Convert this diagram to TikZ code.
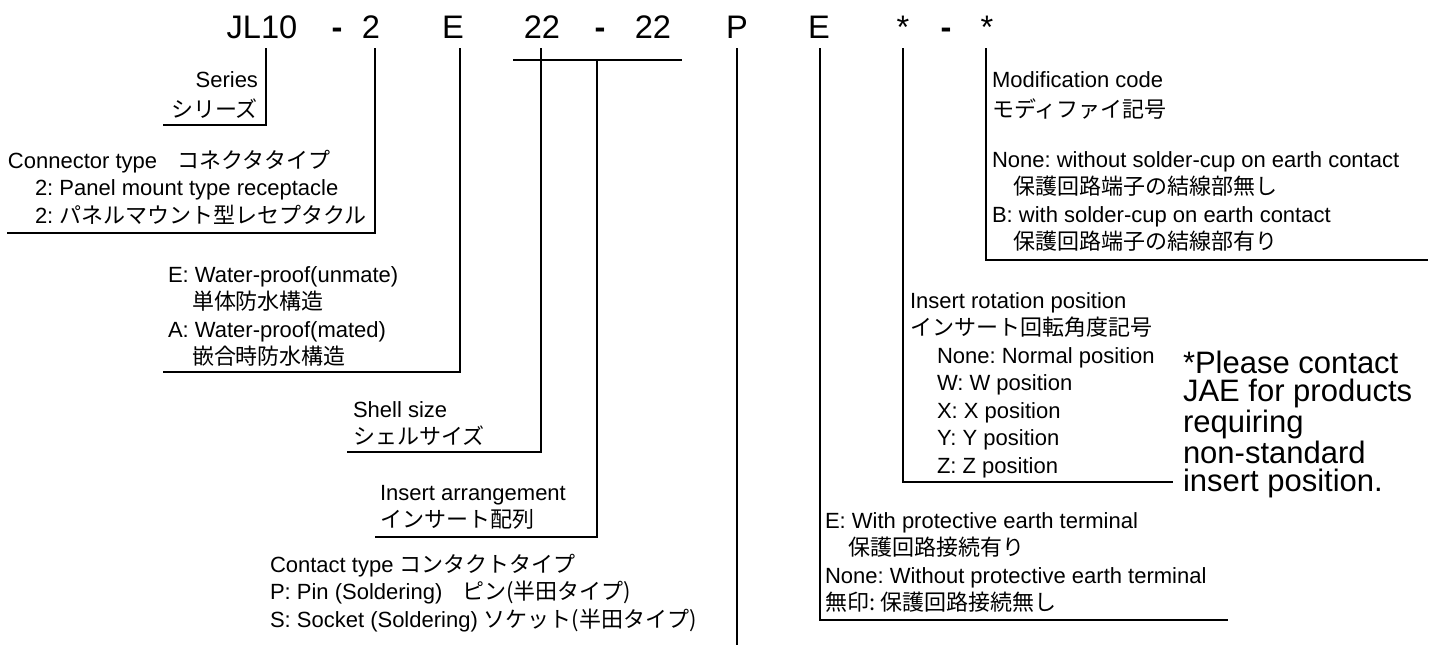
\documentclass[tikz,border=0pt]{standalone}
\usepackage{fontspec}
\setmainfont{Liberation Sans}
\newfontfamily\jp{Noto Sans CJK JP}
\frenchspacing
\tikzset{
  lbl/.style={inner sep=0pt, outer sep=0pt, align=left, anchor=north west,
    font=\fontsize{11}{13.75}\selectfont},
  lblr/.style={lbl, align=right, anchor=north east},
  code/.style={inner sep=0pt, anchor=base, font=\fontsize{16.3}{18}\selectfont},
  note/.style={lbl, font=\fontsize{15.5}{14}\selectfont},
  lead/.style={line width=1.1pt},
  bar/.style={line width=1.4pt}
}
\newcommand{\tp}{\rule{0pt}{10pt}}
\begin{document}
\begin{tikzpicture}[x=0.5pt,y=-0.5pt]
\useasboundingbox (0,0) rectangle (1437,645);
% header code
\node[code] (cJL) at (262,38) {JL10};
\node[code] (cD1) at (337,38) {\textbf{-}};
\node[code] (c2) at (371,38) {2};
\node[code] (cE) at (453,38) {E};
\node[code] (c22a) at (542,38) {22};
\node[code] (cD2) at (600,38) {\textbf{-}};
\node[code] (c22b) at (653,38) {22};
\node[code] (cP) at (737,38) {P};
\node[code] (cE2) at (819,38) {E};
\node[code] (cS1) at (903,38) {*};
\node[code] (cD3) at (946,38) {\textbf{-}};
\node[code] (cS2) at (987,38) {*};

% coordinates for leaders
\coordinate (t1) at (266,48);   \coordinate (k1) at (266,125);  \coordinate (e1) at (163,125);
\coordinate (t2) at (375,48);   \coordinate (k2) at (375,233);  \coordinate (e2) at (7,233);
\coordinate (t3) at (460,48);   \coordinate (k3) at (460,372);  \coordinate (e3) at (163,372);
\coordinate (bL) at (513,60);   \coordinate (bR) at (682,60);
\coordinate (t4) at (541,48);   \coordinate (k4) at (541,452);  \coordinate (e4) at (347,452);
\coordinate (t5) at (597,60);   \coordinate (k5) at (597,537);  \coordinate (e5) at (375,537);
\coordinate (t6) at (737,48);   \coordinate (k6) at (737,645);
\coordinate (t7) at (820,48);   \coordinate (k7) at (820,620);  \coordinate (e7) at (1228,620);
\coordinate (t8) at (903,48);   \coordinate (k8) at (903,482);  \coordinate (e8) at (1173,482);
\coordinate (t9) at (986,48);   \coordinate (k9) at (986,260);  \coordinate (e9) at (1428,260);

\draw[lead] (t1) -- (k1) -- (e1);
\draw[lead] (t2) -- (k2) -- (e2);
\draw[lead] (t3) -- (k3) -- (e3);
\draw[bar] (bL) -- (bR);
\draw[lead] (t4) -- (k4) -- (e4);
\draw[lead] (t5) -- (k5) -- (e5);
\draw[lead] (t6) -- (k6);
\draw[lead] (t7) -- (k7) -- (e7);
\draw[lead] (t8) -- (k8) -- (e8);
\draw[lead] (t9) -- (k9) -- (e9);

% labels
\node[lblr] (series) at (258,67) {\tp Series\\[1.5pt]{\jp シリーズ}};
\node[lbl] (conn) at (8,148) {\tp Connector type\hspace{10pt}{\jp コネクタタイプ}\\
  \hspace*{13.5pt}2: Panel mount type receptacle\\
  \hspace*{13.5pt}2: {\jp パネルマウント型レセプタクル}};
\node[lbl] (wp) at (168,262) {\tp E: Water-proof(unmate)\\
  \hspace*{12pt}{\jp 単体防水構造}\\
  A: Water-proof(mated)\\
  \hspace*{12pt}{\jp 嵌合時防水構造}};
\node[lbl] (shell) at (353,397) {\tp Shell size\\{\jp シェルサイズ}};
\node[lbl] (arr) at (380,480) {\tp Insert arrangement\\{\jp インサート配列}};
\node[lbl] (contact) at (270,552) {\tp Contact type {\jp コンタクトタイプ}\\
  P: Pin (Soldering)\hspace{10pt}{\jp ピン(半田タイプ)}\\
  S: Socket (Soldering) {\jp ソケット(半田タイプ)}};
\node[lbl] (earth) at (825,508) {\tp E: With protective earth terminal\\
  \hspace*{11.5pt}{\jp 保護回路接続有り}\\
  None: Without protective earth terminal\\
  {\jp 無印: 保護回路接続無し}};
\node[lbl] (rot) at (910,288) {\tp Insert rotation position\\
  {\jp インサート回転角度記号}\\
  \hspace*{13.5pt}None: Normal position\\
  \hspace*{13.5pt}W: W position\\
  \hspace*{13.5pt}X: X position\\
  \hspace*{13.5pt}Y: Y position\\
  \hspace*{13.5pt}Z: Z position};
\node[note] (fn) at (1183,351) {\rule{0pt}{11pt}*Please contact\\
  JAE for products\\
  requiring\\
  non-standard\\
  insert position.};
\node[lbl] (mod) at (992,67) {\tp Modification code\\[1.5pt]
  {\jp モディファイ記号}\\[11pt]
  None: without solder-cup on earth contact\\
  \hspace*{10.5pt}{\jp 保護回路端子の結線部無し}\\
  B: with solder-cup on earth contact\\
  \hspace*{10.5pt}{\jp 保護回路端子の結線部有り}};
\end{tikzpicture}
\end{document}
